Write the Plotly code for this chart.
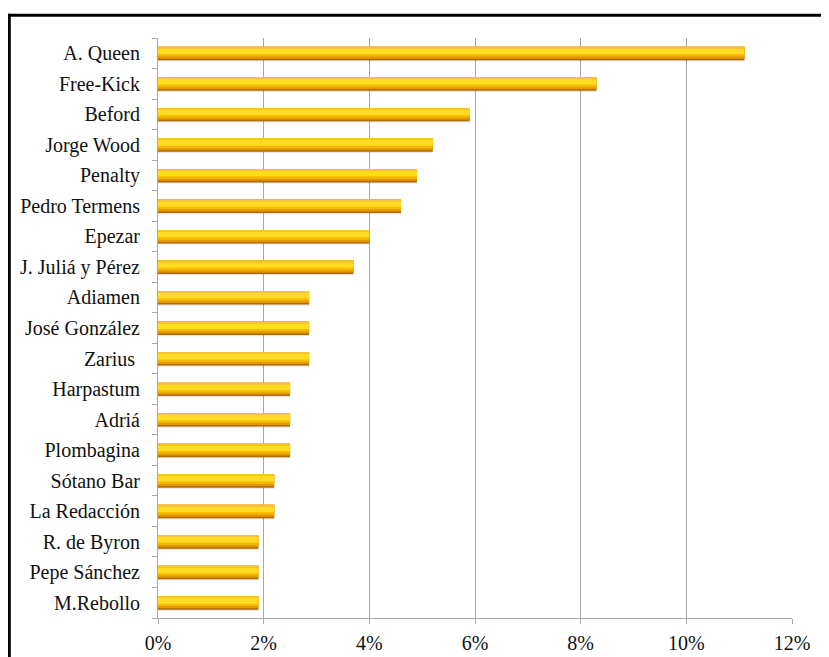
import plotly.graph_objects as go

categories = ["A. Queen", "Free-Kick", "Beford", "Jorge Wood", "Penalty", "Pedro Termens",
              "Epezar", "J. Juliá y Pérez", "Adiamen", "José González", "Zarius ",
              "Harpastum", "Adriá", "Plombagina", "Sótano Bar", "La Redacción",
              "R. de Byron", "Pepe Sánchez", "M.Rebollo"]
values = [11.1, 8.3, 5.9, 5.2, 4.9, 4.6, 4.0, 3.7, 2.86, 2.86, 2.86,
          2.5, 2.5, 2.5, 2.2, 2.2, 1.9, 1.9, 1.9]
x_ticks = [0, 0.02, 0.04, 0.06, 0.08, 0.10, 0.12]
x_tick_labels = ["0%", "2%", "4%", "6%", "8%", "10%", "12%"]

# bottom-to-top order for the category axis
cats = categories[::-1]
vals = [v / 100 for v in values[::-1]]

# the page body has an 8px margin; size the figure to fill the rest
W, H = 821, 649
L, R, T, B = 150, 37, 30, 39
pw, ph = W - L - R, H - T - B

# layered bars to emulate the beveled gold gradient
layers = [
    # (offset, width, color)
    (-0.27, 0.45, "rgba(0,0,0,0.10)"),   # soft shadow
    (-0.23, 0.44, "#B06A00"),            # brown bottom edge
    (-0.18, 0.39, "#E29800"),            # darker orange
    (-0.11, 0.32, "#F8B800"),            # gold
    (-0.03, 0.19, "#FFDC24"),            # bright yellow highlight
    (0.16, 0.05, "#F7C236"),             # top edge
]

fig = go.Figure()
for off, wd, col in layers:
    fig.add_trace(go.Bar(
        y=cats, x=vals, orientation="h",
        offset=off, width=wd,
        marker=dict(color=col, line=dict(width=0)),
        hoverinfo="skip", showlegend=False,
    ))

def px_x(px):
    return (px - L) / pw

def px_y(py):
    return 1 - (py - T) / ph

# outer black frame (top and left edges visible); page coords minus 8px body margin
fig.add_shape(type="line", xref="paper", yref="paper",
              x0=px_x(0), x1=px_x(W + 10), y0=px_y(7.3), y1=px_y(7.3),
              line=dict(color="black", width=3))
fig.add_shape(type="line", xref="paper", yref="paper",
              x0=px_x(1.3), x1=px_x(1.3), y0=px_y(5.8), y1=px_y(H + 10),
              line=dict(color="black", width=3))

font_family = "Liberation Serif"
fig.update_layout(
    width=W, height=H,
    margin=dict(l=L, r=R, t=T, b=B, pad=0, autoexpand=False),
    paper_bgcolor="white", plot_bgcolor="white",
    barmode="overlay",
    font=dict(family=font_family, size=20, color="#111111"),
    xaxis=dict(
        range=[0, 0.12], tickvals=x_ticks, ticktext=x_tick_labels,
        showgrid=True, gridcolor="#A8A8A8", gridwidth=1,
        showline=True, linecolor="#A8A8A8", linewidth=1,
        ticks="outside", ticklen=5, tickcolor="#A8A8A8",
        ticklabelstandoff=2, automargin=False,
        zeroline=False, fixedrange=True,
    ),
    yaxis=dict(
        categoryorder="array", categoryarray=cats,
        range=[-0.5, len(cats) - 0.5],
        showgrid=False, showline=True, linecolor="#A8A8A8", linewidth=1,
        ticks="outside", ticklen=5, tickcolor="#A8A8A8",
        tickson="boundaries", ticklabelstandoff=13, automargin=False,
        zeroline=False, fixedrange=True,
    ),
)

fig.write_html("out.html")
